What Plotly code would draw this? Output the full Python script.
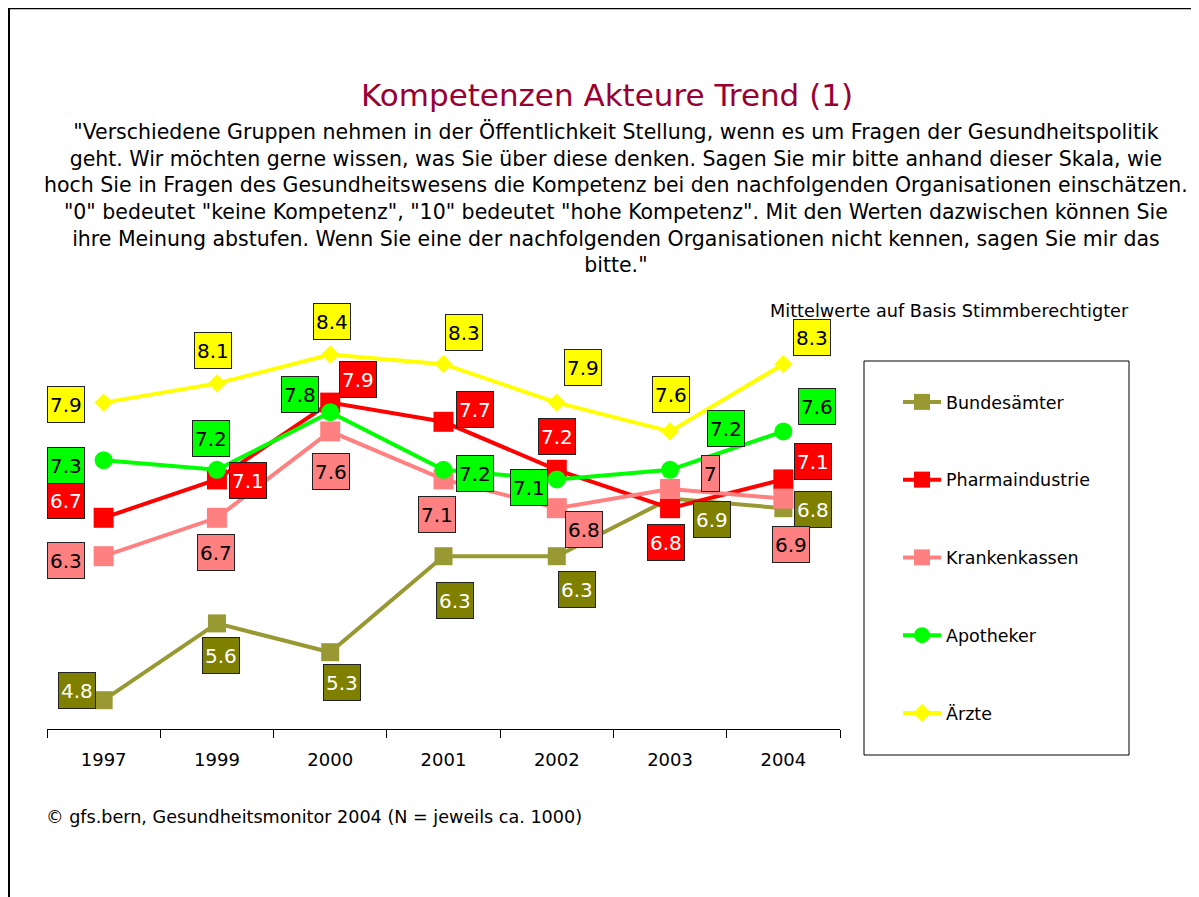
import plotly.graph_objects as go

years = ["1997", "1999", "2000", "2001", "2002", "2003", "2004"]

bundesaemter = [4.8, 5.6, 5.3, 6.3, 6.3, 6.9, 6.8]
pharmaindustrie = [6.7, 7.1, 7.9, 7.7, 7.2, 6.8, 7.1]
krankenkassen = [6.3, 6.7, 7.6, 7.1, 6.8, 7.0, 6.9]
apotheker = [7.3, 7.2, 7.8, 7.2, 7.1, 7.2, 7.6]
aerzte = [7.9, 8.1, 8.4, 8.3, 7.9, 7.6, 8.3]

FONT = "Tahoma, 'DejaVu Sans', sans-serif"

# the page puts the figure 8px in from the corner, so the figure is 8px smaller
W, H = 1191, 889
# plot area in reference pixels
L, R, T, B = 47, 840, 297, 729


def px_x(px):
    return (px - L) / (R - L)


def px_y(py):
    return (B - py) / (B - T)


# name, values, line colour, label bg, label text colour, symbol, marker size,
# label offsets (dx, dy in px, dy down)
series = [
    ("Bundesämter", bundesaemter, "#999933", "#808000", "white", "square", 18,
     [(-27, -10), (4, 32), (12, 30), (11, 44), (20, 33), (42, 21), (30, 1)]),
    ("Pharmaindustrie", pharmaindustrie, "#FF0000", "#FF0000", "white", "square", 20,
     [(-38, -17), (31, 1), (28, -23), (31, -12), (0, -33), (-4, 34), (30, -18)]),
    ("Krankenkassen", krankenkassen, "#FF8080", "#FF8080", "black", "square", 20,
     [(-38, 4), (-1, 35), (1, 40), (-7, 35), (27, 21), (40, -16), (8, 46)]),
    ("Apotheker", apotheker, "#00FF00", "#00FF00", "black", "circle", 18,
     [(-38, 5), (-6, -31), (-30, -18), (31, 4), (-28, 8), (56, -41), (34, -25)]),
    ("Ärzte", aerzte, "#FFFF00", "#FFFF00", "black", "diamond", 14,
     [(-38, 2), (-4, -33), (2, -33), (20, -32), (26, -35), (1, -37), (29, -27)]),
]

xpos = list(range(len(years)))

fig = go.Figure()
annotations = []

for name, vals, col, lab_bg, lab_fg, sym, msize, offs in series:
    fig.add_trace(go.Scatter(
        x=xpos, y=vals, name=name, mode="lines+markers",
        legendgroup=name,
        line=dict(color=col, width=4),
        marker=dict(symbol=sym, size=msize, color=col),
        hoverinfo="skip",
    ))
    for xi, v, (dx, dy) in zip(xpos, vals, offs):
        annotations.append(dict(
            x=xi, y=v, xref="x", yref="y", text=f"{v:g}", showarrow=False,
            xshift=dx, yshift=-dy, xanchor="center", yanchor="middle",
            font=dict(family=FONT, size=20, color=lab_fg),
            bgcolor=lab_bg, bordercolor="#222222", borderwidth=1, borderpad=2,
            height=31,
        ))

subtitle = ("\"Verschiedene Gruppen nehmen in der Öffentlichkeit Stellung, wenn es um Fragen der Gesundheitspolitik<br>"
            "geht. Wir möchten gerne wissen, was Sie über diese denken. Sagen Sie mir bitte anhand dieser Skala, wie<br>"
            "hoch Sie in Fragen des Gesundheitswesens die Kompetenz bei den nachfolgenden Organisationen einschätzen.<br>"
            "\"0\" bedeutet \"keine Kompetenz\", \"10\" bedeutet \"hohe Kompetenz\". Mit den Werten dazwischen können Sie<br>"
            "ihre Meinung abstufen. Wenn Sie eine der nachfolgenden Organisationen nicht kennen, sagen Sie mir das<br>"
            "bitte.\"")

annotations += [
    dict(text="Kompetenzen Akteure Trend (1)", x=px_x(607), y=px_y(95), xref="paper", yref="paper",
         showarrow=False, xanchor="center", yanchor="middle",
         font=dict(family=FONT, size=31, color="#990033")),
    dict(text=subtitle, x=px_x(616), y=px_y(198), xref="paper", yref="paper",
         showarrow=False, xanchor="center", yanchor="middle", align="center",
         font=dict(family=FONT, size=20.5, color="black")),
    dict(text="Mittelwerte auf Basis Stimmberechtigter", x=px_x(768), y=px_y(311),
         xref="paper", yref="paper", showarrow=False, xanchor="left", yanchor="middle",
         font=dict(family=FONT, size=17.7, color="black")),
    dict(text="© gfs.bern, Gesundheitsmonitor 2004 (N = jeweils ca. 1000)", x=px_x(44), y=px_y(817),
         xref="paper", yref="paper", showarrow=False, xanchor="left", yanchor="middle",
         font=dict(family=FONT, size=17.6, color="black")),
]

shapes = [
    # outer frame (top and left only)
    dict(type="line", xref="paper", yref="paper", x0=px_x(8), x1=px_x(1205), y0=px_y(8), y1=px_y(8),
         line=dict(color="black", width=2.5)),
    dict(type="line", xref="paper", yref="paper", x0=px_x(9), x1=px_x(9), y0=px_y(8), y1=px_y(900),
         line=dict(color="black", width=2)),
    # legend box
    dict(type="rect", xref="paper", yref="paper", x0=px_x(864), x1=px_x(1129), y0=px_y(361), y1=px_y(755),
         line=dict(color="black", width=1)),
]

fig.update_layout(
    width=W, height=H,
    margin=dict(l=L - 8, r=W - (R - 8), t=T - 8, b=H - (B - 8), pad=0),
    paper_bgcolor="white", plot_bgcolor="white",
    font=dict(family=FONT, size=18, color="black"),
    showlegend=True,
    legend=dict(x=px_x(898), y=px_y(384), xanchor="left", yanchor="top",
                bgcolor="rgba(0,0,0,0)", borderwidth=0, traceorder="grouped",
                tracegroupgap=52, itemwidth=38,
                font=dict(family=FONT, size=17.5, color="black")),
    annotations=annotations,
    shapes=shapes,
)

fig.update_xaxes(range=[-0.5, len(years) - 0.5], tickmode="array", tickvals=xpos, ticktext=years,
                 ticks="", showline=True, linecolor="black", linewidth=1,
                 showgrid=False, zeroline=False, ticklabelstandoff=14,
                 minor=dict(tickmode="array", tickvals=[i - 0.5 for i in range(len(years) + 1)],
                            ticks="outside", ticklen=8, tickcolor="black", showgrid=False),
                 tickfont=dict(family=FONT, size=18, color="black"))
fig.update_yaxes(range=[4.5, 9.0], showticklabels=False, ticks="", showline=False,
                 showgrid=False, zeroline=False)

fig.write_html("out.html")
